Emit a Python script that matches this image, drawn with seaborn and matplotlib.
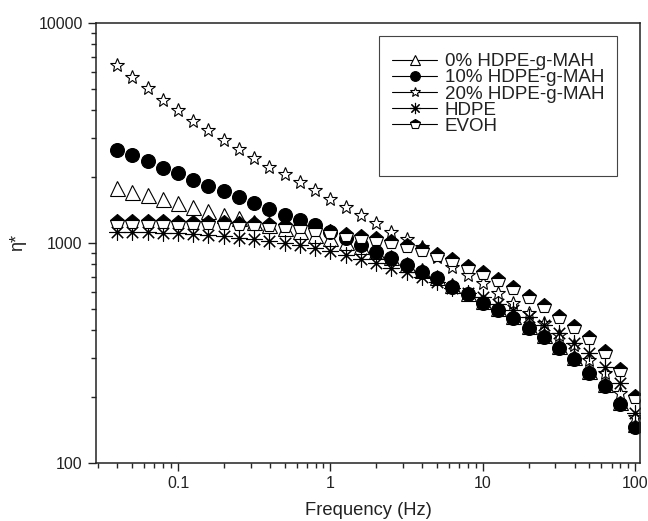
import matplotlib
matplotlib.use('Agg')
import matplotlib.pyplot as plt
import seaborn as sns
import pandas as pd
from matplotlib.lines import Line2D
from matplotlib.patches import Rectangle
from matplotlib.ticker import LogLocator, NullFormatter, FixedLocator, FixedFormatter

# frequency sweep, 10 points per decade
freq = [0.0398, 0.0501, 0.0631, 0.0794, 0.1, 0.126, 0.158, 0.2, 0.251, 0.316,
        0.398, 0.501, 0.631, 0.794, 1.0, 1.26, 1.58, 2.0, 2.51, 3.16,
        3.98, 5.01, 6.31, 7.94, 10.0, 12.6, 15.8, 20.0, 25.1, 31.6,
        39.8, 50.1, 63.1, 79.4, 100.0]

eta_0 = [1773, 1700, 1645, 1580, 1515, 1455, 1395, 1340, 1295, 1250,
         1210, 1170, 1130, 1090, 1050, 1010, 970, 915, 860, 805,
         750, 700, 645, 595, 545, 505, 465, 420, 382, 340,
         303, 262, 228, 190, 150]
eta_10 = [2640, 2510, 2350, 2190, 2075, 1930, 1810, 1720, 1615, 1515,
          1420, 1335, 1270, 1200, 1125, 1050, 975, 905, 850, 793,
          737, 690, 632, 585, 535, 494, 455, 410, 373, 332,
          296, 256, 223, 185, 145]
eta_20 = [6420, 5650, 5040, 4460, 4010, 3590, 3250, 2930, 2670, 2440,
          2210, 2050, 1890, 1740, 1580, 1450, 1335, 1225, 1120, 1040,
          955, 860, 780, 712, 657, 591, 532, 480, 432, 381,
          343, 293, 256, 207, 162]
eta_hdpe = [1125, 1120, 1115, 1110, 1105, 1095, 1085, 1070, 1055, 1040,
            1020, 1000, 975, 950, 920, 885, 845, 808, 770, 735,
            700, 665, 625, 590, 565, 530, 495, 460, 423, 389,
            350, 315, 272, 230, 168]
eta_evoh = [1245, 1242, 1240, 1238, 1235, 1232, 1228, 1225, 1220, 1212,
            1200, 1190, 1178, 1150, 1115, 1085, 1060, 1040, 1007, 965,
            927, 880, 835, 780, 730, 680, 625, 570, 515, 462,
            415, 369, 320, 264, 200]

labels = ['0% HDPE-g-MAH', '10% HDPE-g-MAH', '20% HDPE-g-MAH', 'HDPE', 'EVOH']
values = [eta_0, eta_10, eta_20, eta_hdpe, eta_evoh]

styles = [
    dict(marker='^', markersize=10.8, markerfacecolor='white'),
    dict(marker='o', markersize=10.0, markerfacecolor='black'),
    dict(marker='*', markersize=10.5, markerfacecolor='white'),
    dict(marker=(8, 2, 0), markersize=11.5, markerfacecolor='black'),
    dict(marker='p', markersize=11.0, markerfacecolor='black',
         fillstyle='top', markerfacecoloralt='white'),
]

sns.set_style('ticks')
plt.rcParams['font.family'] = ['Liberation Sans', 'DejaVu Sans']
plt.rcParams['axes.linewidth'] = 1.1

fig = plt.figure(figsize=(6.48, 5.21), dpi=100)
ax = fig.add_axes([0.148, 0.1113, 0.84, 0.8451])

for lab, vals, st in zip(labels, values, styles):
    df = pd.DataFrame({'freq': freq, 'eta': vals})
    sns.lineplot(data=df, x='freq', y='eta', ax=ax, color='black',
                 linestyle='none', markeredgecolor='black',
                 markeredgewidth=0.8, **st)

ax.set_xscale('log')
ax.set_yscale('log')
ax.set_xlim(0.0289, 108)
ax.set_ylim(100, 10000)

ax.xaxis.set_major_locator(FixedLocator([0.1, 1, 10, 100]))
ax.xaxis.set_major_formatter(FixedFormatter(['0.1', '1', '10', '100']))
ax.xaxis.set_minor_locator(LogLocator(base=10, subs=range(2, 10), numticks=20))
ax.xaxis.set_minor_formatter(NullFormatter())
ax.yaxis.set_major_locator(FixedLocator([100, 1000, 10000]))
ax.yaxis.set_major_formatter(FixedFormatter(['100', '1000', '10000']))
ax.yaxis.set_minor_locator(LogLocator(base=10, subs=range(2, 10), numticks=20))
ax.yaxis.set_minor_formatter(NullFormatter())

ax.tick_params(which='major', direction='out', length=6, width=1,
               labelsize=11.5, colors='#222222')
ax.tick_params(which='minor', direction='out', length=3.5, width=1)
for sp in ax.spines.values():
    sp.set_visible(True)
    sp.set_color('#222222')

ax.set_xlabel('Frequency (Hz)', fontsize=13.2, color='#222222', labelpad=8)
ax.set_ylabel('η*', fontsize=13, color='#222222', labelpad=9)

# legend: entries without frame, box drawn separately (it has extra room at the bottom)
handles = [Line2D([], [], color='black', linewidth=0.8, markeredgecolor='black',
                  markeredgewidth=0.8, **st) for st in styles]
leg = ax.legend(handles, labels, loc='upper left', bbox_to_anchor=(0.52, 0.961),
                borderaxespad=0, fontsize=13.5, markerscale=0.7,
                handlelength=2.4, handletextpad=0.4, labelspacing=-0.05,
                borderpad=0.7, frameon=False)
for t in leg.get_texts():
    t.set_color('#222222')
ax.add_patch(Rectangle((0.52, 0.652), 0.438, 0.318, transform=ax.transAxes,
                       facecolor='none', edgecolor='#444444', linewidth=0.8,
                       zorder=6))

plt.savefig('out.png', dpi=100)
